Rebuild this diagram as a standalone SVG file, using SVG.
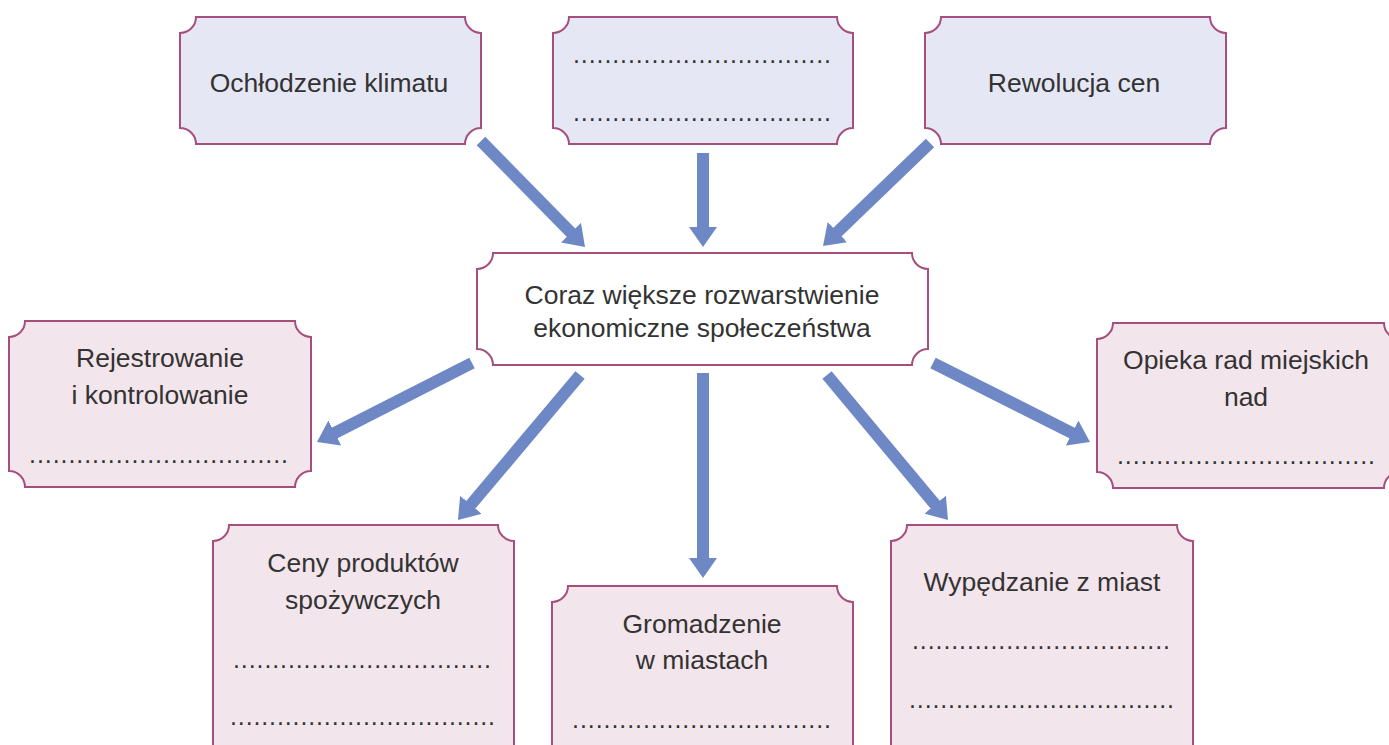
<svg xmlns="http://www.w3.org/2000/svg" width="1389" height="745" viewBox="0 0 1389 745">
<style>
.box{stroke:#A64E7D;stroke-width:2}
.top{fill:#E6E7F4}
.bot{fill:#F3E5EC}
.mid{fill:#FFFFFF}
.t{font-family:"Liberation Sans",Arial,sans-serif;font-size:26.5px;fill:#333333;text-anchor:middle}
.d{font-family:"Liberation Sans",Arial,sans-serif;font-size:25px;fill:#333333}
.arr{stroke:#6E87C5;stroke-width:12;fill:none;marker-end:url(#ah)}
</style>
<defs>
<marker id="ah" markerUnits="userSpaceOnUse" viewBox="0 0 20 28" markerWidth="20" markerHeight="28" refX="1" refY="14" orient="auto">
<path d="M0,0 L20,14 L0,28 Z" fill="#6E87C5"/>
</marker>
</defs>
<rect width="1389" height="745" fill="#FFFFFF"/>
<g id="connectors">
<line class="arr" x1="481" y1="141" x2="571.7" y2="233.4"/>
<line class="arr" x1="703" y1="153" x2="703" y2="228"/>
<line class="arr" x1="930" y1="143" x2="836.7" y2="232.8"/>
<line class="arr" x1="472" y1="363" x2="333.9" y2="433.4"/>
<line class="arr" x1="580" y1="375" x2="470.2" y2="505.5"/>
<line class="arr" x1="703" y1="373" x2="703" y2="559"/>
<line class="arr" x1="827" y1="375" x2="935.8" y2="505.4"/>
<line class="arr" x1="933" y1="363" x2="1073" y2="433.5"/>
</g>
<g id="n1">
<path class="box top" d="M196,17 H465 A16,16 0 0 0 481,33 V128 A16,16 0 0 0 465,144 H196 A16,16 0 0 0 180,128 V33 A16,16 0 0 0 196,17 Z"/>
<text class="t" x="329" y="92">Ochłodzenie klimatu</text>
</g>
<g id="n2">
<path class="box top" d="M569,17 H837 A16,16 0 0 0 853,33 V128 A16,16 0 0 0 837,144 H569 A16,16 0 0 0 553,128 V33 A16,16 0 0 0 569,17 Z"/>
<text class="d" x="573" y="63" textLength="258" lengthAdjust="spacing">.................................</text>
<text class="d" x="573" y="121" textLength="258" lengthAdjust="spacing">.................................</text>
</g>
<g id="n3">
<path class="box top" d="M941,17 H1210 A16,16 0 0 0 1226,33 V128 A16,16 0 0 0 1210,144 H941 A16,16 0 0 0 925,128 V33 A16,16 0 0 0 941,17 Z"/>
<text class="t" x="1074" y="92">Rewolucja cen</text>
</g>
<g id="center">
<path class="box mid" d="M493,253 H912 A16,16 0 0 0 928,269 V349 A16,16 0 0 0 912,365 H493 A16,16 0 0 0 477,349 V269 A16,16 0 0 0 493,253 Z"/>
<text class="t" x="702" y="304">Coraz większe rozwarstwienie</text>
<text class="t" x="702" y="337">ekonomiczne społeczeństwa</text>
</g>
<g id="n4">
<path class="box bot" d="M25,321 H295 A16,16 0 0 0 311,337 V471 A16,16 0 0 0 295,487 H25 A16,16 0 0 0 9,471 V337 A16,16 0 0 0 25,321 Z"/>
<text class="t" x="160" y="367">Rejestrowanie</text>
<text class="t" x="160" y="404">i kontrolowanie</text>
<text class="d" x="29" y="463" textLength="259" lengthAdjust="spacing">.................................</text>
</g>
<g id="n5">
<path class="box bot" d="M1113,323 H1384 A16,16 0 0 0 1400,339 V472 A16,16 0 0 0 1384,488 H1113 A16,16 0 0 0 1097,472 V339 A16,16 0 0 0 1113,323 Z"/>
<text class="t" x="1246" y="369">Opieka rad miejskich</text>
<text class="t" x="1246" y="406">nad</text>
<text class="d" x="1117" y="464" textLength="258" lengthAdjust="spacing">.................................</text>
</g>
<g id="n6">
<path class="box bot" d="M229,525 H498 A16,16 0 0 0 514,541 V770 H213 V541 A16,16 0 0 0 229,525 Z"/>
<text class="t" x="363" y="572">Ceny produktów</text>
<text class="t" x="363" y="609">spożywczych</text>
<text class="d" x="233" y="668" textLength="258" lengthAdjust="spacing">.................................</text>
<text class="d" x="230" y="725" textLength="265" lengthAdjust="spacing">..................................</text>
</g>
<g id="n7">
<path class="box bot" d="M568,586 H837 A16,16 0 0 0 853,602 V770 H552 V602 A16,16 0 0 0 568,586 Z"/>
<text class="t" x="702" y="633">Gromadzenie</text>
<text class="t" x="702" y="669">w miastach</text>
<text class="d" x="572" y="728" textLength="259" lengthAdjust="spacing">.................................</text>
</g>
<g id="n8">
<path class="box bot" d="M907,525 H1177 A16,16 0 0 0 1193,541 V770 H891 V541 A16,16 0 0 0 907,525 Z"/>
<text class="t" x="1042" y="591">Wypędzanie z miast</text>
<text class="d" x="912" y="649" textLength="258" lengthAdjust="spacing">.................................</text>
<text class="d" x="909" y="708" textLength="265" lengthAdjust="spacing">..................................</text>
</g>
</svg>
